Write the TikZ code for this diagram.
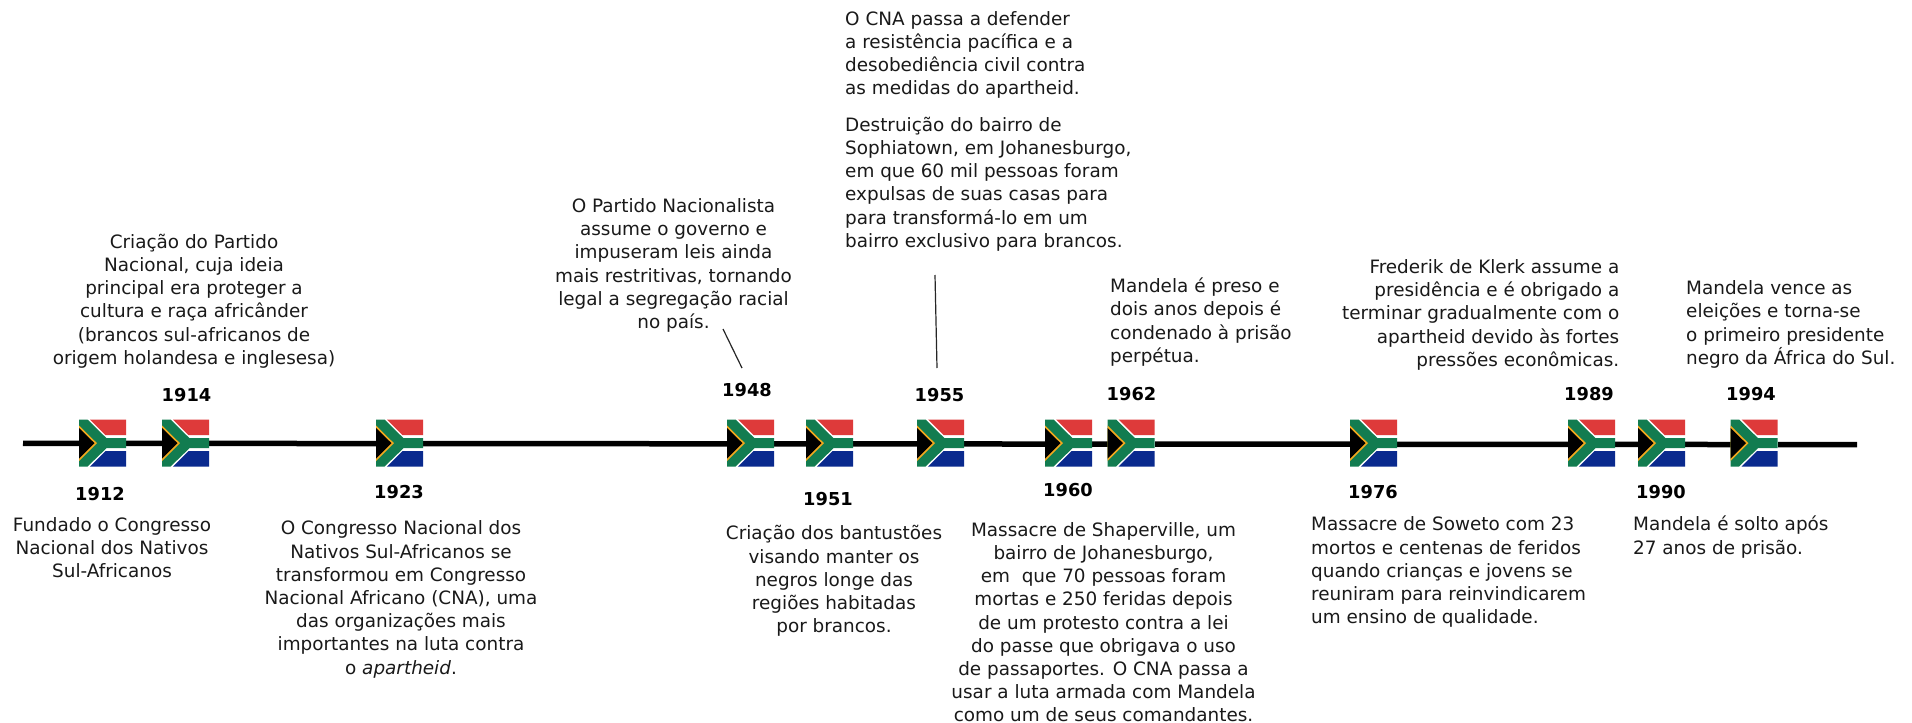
\documentclass[tikz,border=0pt]{standalone}
\usepackage{fontspec}
\setmainfont{DejaVu Sans}
\definecolor{flagred}{HTML}{DE3A3A}
\definecolor{flagblue}{HTML}{0A2A8E}
\definecolor{flaggreen}{HTML}{127C50}
\definecolor{flagyellow}{HTML}{F2A91E}
\tikzset{
  txt/.style={font=\fontsize{18.4}{23.2}\selectfont,inner sep=0pt,text=black!90},
  ctxt/.style={txt,align=center,anchor=center},
  ltxt/.style={txt,align=left,anchor=west},
  rtxt/.style={txt,align=right,anchor=east},
  yearlabel/.style={font=\fontsize{17.8}{20}\selectfont\bfseries,inner sep=0pt,anchor=center},
  axisline/.style={line width=5.5pt,black},
  pointer/.style={line width=1.2pt,black!85},
  saflag/.pic={
    \fill[white] (0,0) rectangle (47,47);
    \fill[flagred] (11,0) -- (47,0) -- (47,15.5) -- (26.5,15.5) -- cycle;
    \fill[flagblue] (26.5,31.5) -- (47,31.5) -- (47,47) -- (11,47) -- cycle;
    \fill[flaggreen] (0,0) -- (8.5,0) -- (27.5,18.7) -- (47,18.7) -- (47,28.7) -- (27.5,28.7) -- (8.5,47) -- (0,47) -- cycle;
    \fill[flagyellow] (0,6) -- (18,23.7) -- (0,41.5) -- cycle;
    \fill[black] (0,8.5) -- (15.5,23.7) -- (0,39) -- cycle;
  }
}
\begin{document}
\begin{tikzpicture}[x=1pt,y=-1pt]
\useasboundingbox (0,0) rectangle (1912,723);
\coordinate (axisL) at (23,443.3);
\coordinate (axisR) at (1857,444.6);
\draw[axisline] (axisL) -- (axisR);
\foreach \n/\x in {a/79,b/162,c/376,d/727,e/806,f/917,g/1045,h/1107.5,i/1350,j/1568,k/1638,l/1730.5}
  \pic (flag\n) at (\x,419.5) {saflag};

\node[yearlabel] (y1912) at (100,494) {1912};
\node[yearlabel] (y1914) at (186.5,395) {1914};
\node[yearlabel] (y1923) at (399,492) {1923};
\node[yearlabel] (y1948) at (747,390) {1948};
\node[yearlabel] (y1951) at (828,499) {1951};
\node[yearlabel] (y1955) at (939.5,395) {1955};
\node[yearlabel] (y1960) at (1068,490) {1960};
\node[yearlabel] (y1962) at (1131.5,394) {1962};
\node[yearlabel] (y1976) at (1373,492) {1976};
\node[yearlabel] (y1989) at (1589,394) {1989};
\node[yearlabel] (y1990) at (1661,492) {1990};
\node[yearlabel] (y1994) at (1751,394) {1994};

\node[ctxt] (t1912) at (112,547.5) {Fundado o Congresso\\Nacional dos Nativos\\Sul-Africanos};
\node[ctxt] (t1914) at (194,301) {Criação do Partido\\Nacional, cuja ideia\\principal era proteger a\\cultura e raça africânder\\(brancos sul-africanos de\\origem holandesa e inglesesa)};
\node[ctxt] (t1923) at (401,599.5) {O Congresso Nacional dos\\Nativos Sul-Africanos se\\transformou em Congresso\\Nacional Africano (CNA), uma\\das organizações mais\\importantes na luta contra\\o \textit{apartheid}.};
\node[ctxt] (t1948) at (673.5,265.5) {O Partido Nacionalista\\assume o governo e\\impuseram leis ainda\\mais restritivas, tornando\\legal a segregação racial\\no país.};
\node[ctxt] (t1951) at (834,581) {Criação dos bantustões\\visando manter os\\negros longe das\\regiões habitadas\\por brancos.};
\node[ltxt] (t1955a) at (845,55) {O CNA passa a defender\\a resistência pacífica e a\\desobediência civil contra\\as medidas do apartheid.};
\node[ltxt] (t1955b) at (845,184) {Destruição do bairro de\\Sophiatown, em Johanesburgo,\\em que 60 mil pessoas foram\\expulsas de suas casas para\\para transformá-lo em um\\bairro exclusivo para brancos.};
\node[ctxt] (t1960) at (1103.5,622.2) {Massacre de Shaperville, um\\bairro de Johanesburgo,\\em\ \ que 70 pessoas foram\\mortas e 250 feridas depois\\de um protesto contra a lei\\do passe que obrigava o uso\\de passaportes. O CNA passa a\\usar a luta armada com Mandela\\como um de seus comandantes.};
\node[ltxt] (t1962) at (1110,322) {Mandela é preso e\\dois anos depois é\\condenado à prisão\\perpétua.};
\node[ltxt] (t1976) at (1311,572.2) {Massacre de Soweto com 23\\mortos e centenas de feridos\\quando crianças e jovens se\\reuniram para reinvindicarem\\um ensino de qualidade.};
\node[rtxt] (t1989) at (1619.5,314.8) {Frederik de Klerk assume a\\presidência e é obrigado a\\terminar gradualmente com o\\apartheid devido às fortes\\pressões econômicas.};
\node[ltxt] (t1990) at (1633,537) {Mandela é solto após\\27 anos de prisão.};
\node[ltxt] (t1994) at (1686,324.5) {Mandela vence as\\eleições e torna-se\\o primeiro presidente\\negro da África do Sul.};

\coordinate (p48a) at (723,329);
\coordinate (p48b) at (742,368);
\coordinate (p55a) at (935,275);
\coordinate (p55b) at (937,368);
\draw[pointer] (p48a) -- (p48b);
\draw[pointer] (p55a) -- (p55b);
\end{tikzpicture}
\end{document}
